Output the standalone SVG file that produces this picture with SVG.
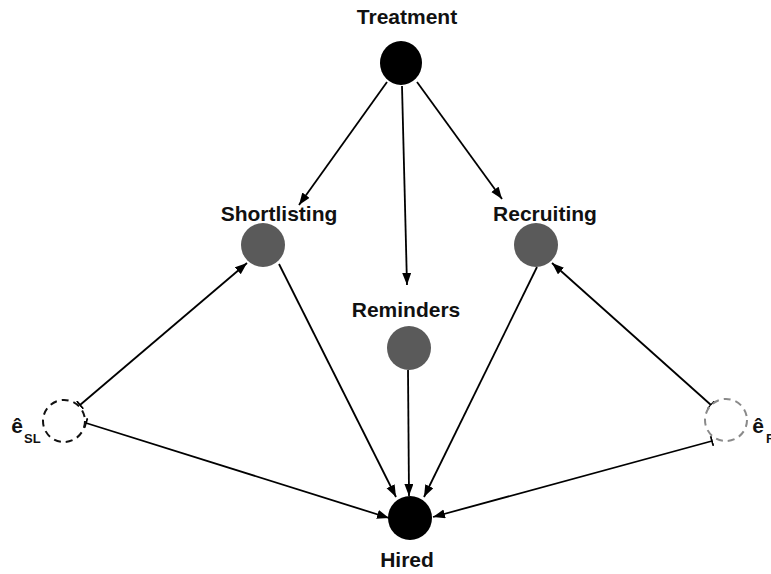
<svg xmlns="http://www.w3.org/2000/svg" width="771" height="574" viewBox="0 0 771 574">
<style>
  .lbl { font-family: "Liberation Sans", Arial, sans-serif; font-weight: bold; font-size: 21px; fill: #111; text-anchor: middle; }
  .sub { font-family: "Liberation Sans", Arial, sans-serif; font-weight: bold; font-size: 13px; fill: #111; }
  .blk { fill: #000; }
  .mid { fill: #5a5a5a; }
  .err { fill: #fff; stroke-width: 2; stroke-dasharray: 7 5; }
  .edge { stroke: #000; stroke-width: 1.8; fill: none; marker-end: url(#arr); }
  .tick { marker-start: url(#tick); }
</style>
<defs>
  <marker id="arr" markerUnits="userSpaceOnUse" markerWidth="14" markerHeight="10" refX="12" refY="4.5" orient="auto">
    <path d="M0,0 L12,4.5 L0,9 z" fill="#000"/>
  </marker>
  <marker id="tick" markerUnits="userSpaceOnUse" markerWidth="4" markerHeight="10" refX="1" refY="5" orient="auto">
    <path d="M1,0 L1,10" stroke="#000" stroke-width="1.8"/>
  </marker>
</defs>
<rect width="771" height="574" fill="#fff"/>
<g id="connectors">
  <line class="edge" x1="387" y1="82" x2="299" y2="205"/>
  <line class="edge" x1="402" y1="86" x2="407" y2="285"/>
  <line class="edge" x1="417" y1="82" x2="502" y2="199"/>
  <line class="edge tick" x1="80" y1="405" x2="247" y2="263"/>
  <line class="edge tick" x1="86" y1="423" x2="389" y2="518"/>
  <line class="edge" x1="279" y1="264" x2="396" y2="497"/>
  <line class="edge" x1="408" y1="370" x2="409" y2="496"/>
  <line class="edge" x1="537" y1="267" x2="424" y2="497"/>
  <line class="edge tick" x1="711" y1="405" x2="552" y2="263"/>
  <line class="edge tick" x1="712" y1="441" x2="433" y2="517"/>
</g>
<g id="treatment">
  <ellipse class="blk" cx="401" cy="63" rx="21" ry="22"/>
  <text class="lbl" x="407" y="24">Treatment</text>
</g>
<g id="shortlisting">
  <ellipse class="mid" cx="263" cy="245" rx="22" ry="22"/>
  <text class="lbl" x="279" y="221">Shortlisting</text>
</g>
<g id="recruiting">
  <ellipse class="mid" cx="536" cy="245" rx="22" ry="22"/>
  <text class="lbl" x="545" y="221">Recruiting</text>
</g>
<g id="reminders">
  <ellipse class="mid" cx="409" cy="348" rx="22" ry="22"/>
  <text class="lbl" x="406" y="317">Reminders</text>
</g>
<g id="hired">
  <ellipse class="blk" cx="410" cy="518" rx="22" ry="22"/>
  <text class="lbl" x="407" y="567">Hired</text>
</g>
<g id="e_sl">
  <circle class="err" cx="64" cy="421" r="21" stroke="#111"/>
  <text class="lbl" x="17" y="433">ê</text>
  <text class="sub" x="24" y="443">SL</text>
</g>
<g id="e_r">
  <circle class="err" cx="726" cy="420" r="21" stroke="#8a8a8a"/>
  <text class="lbl" x="758" y="433">ê</text>
  <text class="sub" x="766" y="443">R</text>
</g>
</svg>
